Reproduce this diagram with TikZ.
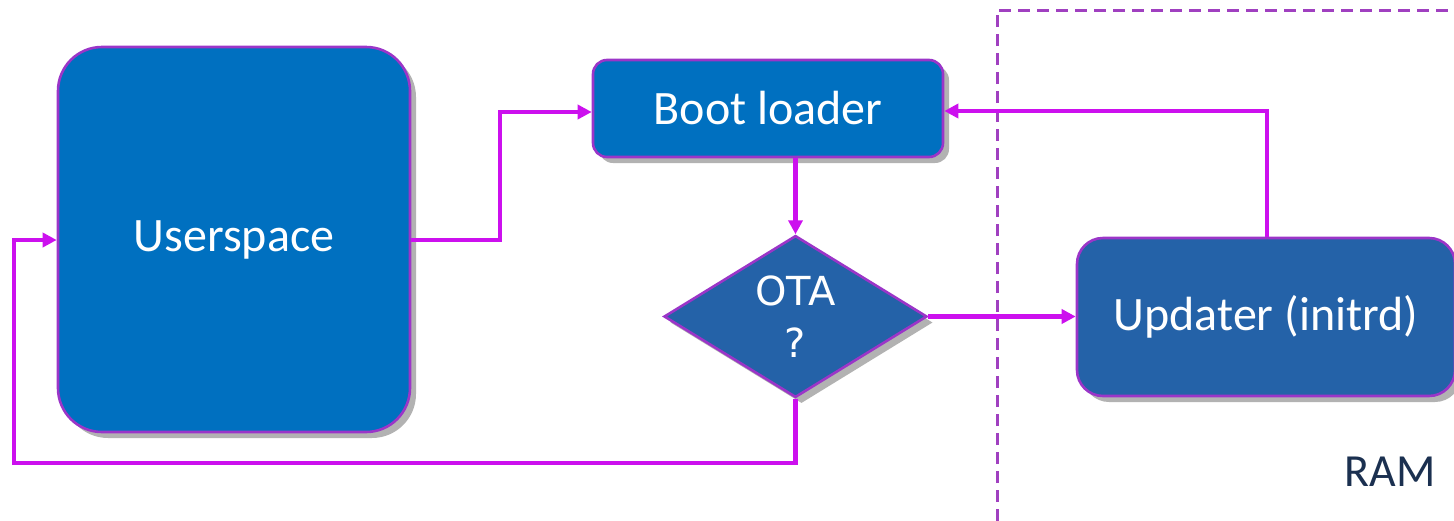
\documentclass[tikz,border=0pt]{standalone}
\usepackage{fontspec}
\setmainfont{Carlito}
\newfontfamily\otafont{DejaVu Sans}
\usetikzlibrary{shapes.geometric,shadows,arrows.meta}
\definecolor{boxblue}{HTML}{0070C0}
\definecolor{boxblue2}{HTML}{2462A8}
\definecolor{edgepurple}{HTML}{9B35C8}
\definecolor{flow}{HTML}{CC10EE}
\definecolor{ramframe}{HTML}{A040C0}
\definecolor{ramtext}{HTML}{1B3050}
\tikzset{
  px/.style={x=0.5pt,y=-0.5pt},
  block/.style={draw=edgepurple,line width=1.3pt,text=white,
    font=\fontsize{24}{28}\selectfont,
    drop shadow={shadow xshift=3pt,shadow yshift=-3pt,opacity=0.5,fill=black!60}},
  flowline/.style={draw=flow,line width=2.3pt,
    -{Triangle[length=7pt,width=7pt]}},
}
\begin{document}
\begin{tikzpicture}[px]
\useasboundingbox (0,0) rectangle (1454,520);
% RAM region frame
\draw[ramframe,line width=1.5pt,dash pattern=on 6pt off 3.5pt]
  (997,540) -- (997,10) -- (1470,10);
\node[text=ramtext,font=\fontsize{23}{28}\selectfont,anchor=base] (ram) at (1390,486) {RAM};

% blocks
\node[block,fill=boxblue,rounded corners=22pt,minimum width=176pt,minimum height=192.5pt] (user) at (234,239.5) {\raisebox{-2pt}{Userspace}};
\node[block,fill=boxblue,rounded corners=7pt,minimum width=175pt,minimum height=48.5pt] (boot) at (768,108.5) {Boot loader};
\node[block,fill=boxblue2,diamond,inner sep=0pt,minimum width=131.5pt,minimum height=76.5pt,
  font={\otafont\fontsize{20}{26}\selectfont},align=center] (ota) at (795.5,316.5) {OTA\\?};
\node[block,fill=boxblue2,rounded corners=13pt,minimum width=189pt,minimum height=79pt] (upd) at (1266,317) {Updater (initrd)};

% connectors
\coordinate (u1) at (500,240);
\coordinate (u2) at (500,112);
\draw[flowline] (user.east |- u1) -- (u1) -- (u2) -- (boot.west |- u2);
\draw[flowline] (boot.south -| ota.north) -- (ota.north);
\draw[flowline] (ota.east) -- (upd.west |- ota.east);
\coordinate (r1) at (1267,111);
\draw[flowline] (upd.north -| r1) -- (r1) -- (boot.east |- r1);
\coordinate (b1) at (795.5,463);
\coordinate (b2) at (14,463);
\coordinate (b3) at (14,240);
\draw[flowline] (ota.south) -- (b1) -- (b2) -- (b3) -- (user.west |- b3);
\end{tikzpicture}
\end{document}
